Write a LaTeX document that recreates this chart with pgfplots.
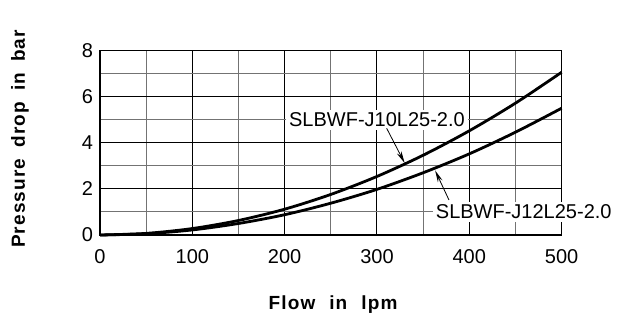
\documentclass[border=0pt]{standalone}
\usepackage{fontspec}
\setmainfont{Liberation Sans}
\usepackage{pgfplots}
\pgfplotsset{compat=1.18}
\usetikzlibrary{arrows.meta}
\newfontfamily\spacedbold[LetterSpace=6]{Liberation Sans Bold}
\begin{document}
\begin{tikzpicture}[x=1pt,y=1pt]
\begin{axis}[
  at={(50pt,40.5pt)}, anchor=south west,
  scale only axis, width=230.8pt, height=92.2pt,
  xmin=0, xmax=500, ymin=0, ymax=8,
  xtick={0,100,...,500}, ytick={0,2,...,8},
  minor xtick={50,150,...,450}, minor ytick={1,3,5,7},
  grid=both,
  major grid style={black, line width=0.5pt},
  minor grid style={black!55, line width=0.5pt},
  major tick length=0pt, minor tick length=0pt,
  axis line style={black, line width=0.6pt},
  tick label style={font=\fontsize{10}{12}\selectfont},
  xticklabel style={yshift=-3.5pt},
  /pgf/number format/assume math mode=true,
  clip=false,
]
\addplot[black, line width=1.4pt, smooth] coordinates {
 (0,0) (50,0.07) (100,0.28) (150,0.63) (200,1.12) (250,1.76) (300,2.54) (350,3.46) (400,4.52) (450,5.72) (500,7.06)};
\addplot[black, line width=1.4pt, smooth] coordinates {
 (0,0) (50,0.055) (100,0.22) (150,0.5) (200,0.88) (250,1.38) (300,1.98) (350,2.7) (400,3.52) (450,4.46) (500,5.5)};
\node[fill=white, inner sep=1.5pt, font=\fontsize{10}{12}\selectfont] at (axis cs:300,5) {SLBWF-J10L25-2.0};
\node[fill=white, inner sep=1.5pt, font=\fontsize{10}{12}\selectfont] at (axis cs:459,1) {SLBWF-J12L25-2.0};
\draw[black, line width=0.4pt, -{Stealth[length=6pt,width=2.5pt]}] (axis cs:310.5,4.63) -- (axis cs:330,3.12);
\draw[black, line width=0.4pt, -{Stealth[length=6pt,width=2.5pt]}] (axis cs:378,1.52) -- (axis cs:363,2.8);
\end{axis}
\node[rotate=90, font=\spacedbold\fontsize{9.5}{11}\selectfont] at (10pt,88.5pt) {Pressure\hspace{5.5pt}drop\hspace{5.5pt}in\hspace{5.5pt}bar};
\node[font=\spacedbold\fontsize{9.5}{11}\selectfont] at (166.5pt,5.8pt) {Flow\hspace{7pt}in\hspace{7pt}lpm};
\pgfresetboundingbox
\useasboundingbox (0,0) rectangle (309.5pt,158pt);
\end{tikzpicture}
\end{document}
